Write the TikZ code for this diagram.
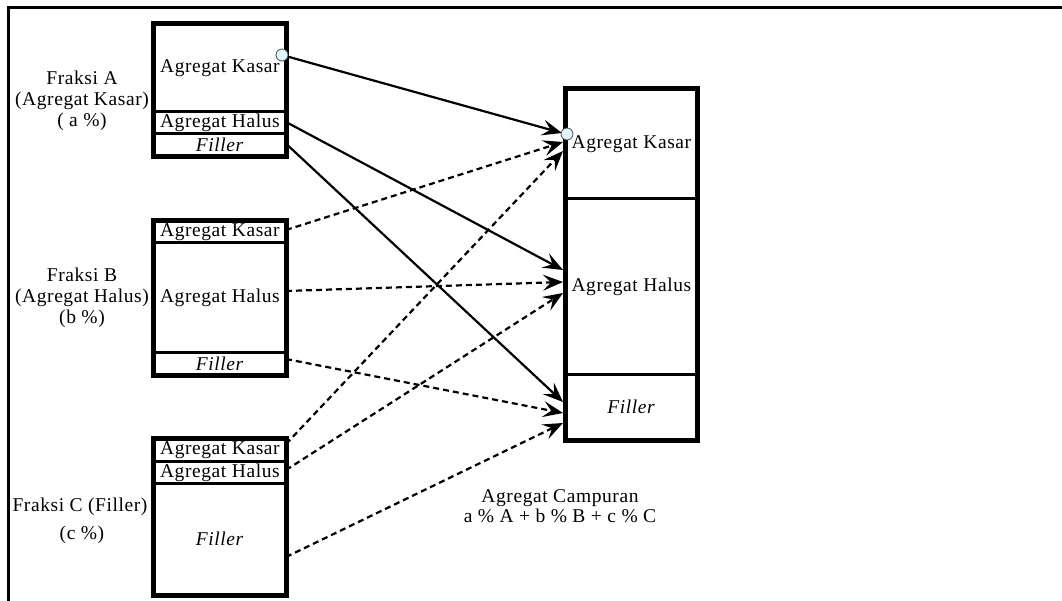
\documentclass[tikz,border=0pt]{standalone}
\usepackage{fontspec}
\setmainfont[LetterSpace=3]{Liberation Serif}
\usetikzlibrary{arrows.meta}
\begin{document}
\begin{tikzpicture}[x=1pt,y=-1pt,
  txt/.style={font=\fontsize{19.5}{22}\selectfont},
  cell/.style={draw, line width=2.8pt, inner sep=0pt, anchor=north west, minimum width=131pt, txt},
  outer/.style={line width=4pt},
  conn/.style={line width=2.2pt, -{Stealth[length=20pt, width=16pt, inset=8pt]}},
  dconn/.style={conn, dash pattern=on 6pt off 4pt},
  dot/.style={circle, draw=black!70, fill=cyan!12, line width=0.8pt, minimum size=12pt, inner sep=0pt},
  lab/.style={txt, align=center}]
\useasboundingbox (0,0) rectangle (1062,601);
\draw[line width=3pt] (8.5,601) -- (8.5,7.5) -- (1062,7.5);

% Box A
\node[cell, minimum height=87pt] (Ak) at (153,23) {Agregat Kasar};
\node[cell, minimum height=22pt] (Ah) at (153,110) {Agregat Halus};
\node[cell, minimum height=22pt] (Af) at (153,132) {\textit{Filler}};
\draw[outer] (Ak.north west) rectangle (Af.south east);
% Box B
\node[cell, minimum height=21pt] (Bk) at (153,220) {Agregat Kasar};
\node[cell, minimum height=110pt] (Bh) at (153,241) {Agregat Halus};
\node[cell, minimum height=22pt] (Bf) at (153,351) {\textit{Filler}};
\draw[outer] (Bk.north west) rectangle (Bf.south east);
% Box C
\node[cell, minimum height=22pt] (Ck) at (153,438) {Agregat Kasar};
\node[cell, minimum height=22pt] (Ch) at (153,460) {Agregat Halus};
\node[cell, minimum height=111pt] (Cf) at (153,482) {\textit{Filler}};
\draw[outer] (Ck.north west) rectangle (Cf.south east);
% Right box
\node[cell, minimum width=130pt, minimum height=109pt] (Rk) at (565,88) {Agregat Kasar};
\node[cell, minimum width=130pt, minimum height=176pt] (Rh) at (565,197) {Agregat Halus};
\node[cell, minimum width=130pt, minimum height=65pt] (Rf) at (565,373) {\textit{Filler}};
\draw[outer] (Rk.north west) rectangle (Rf.south east);

% Left labels
\node[lab] (LA) at (82,101) {Fraksi A\\[-1pt](Agregat Kasar)\\[-1pt]( a \%)};
\node[lab] (LB) at (82,298) {Fraksi B\\[-1pt](Agregat Halus)\\[-1pt](b \%)};
\node[txt] (LC1) at (80,507) {Fraksi C (Filler)};
\node[txt] (LC2) at (82,535) {(c \%)};
\node[lab] (mix) at (560,506) {Agregat Campuran\\[-2pt]a \% A + b \% B + c \% C};

% start / end points
\coordinate (sBk) at (286,230);
\coordinate (sBh) at (286,291);
\coordinate (sBf) at (286,359);
\coordinate (sCk) at (286,444);
\coordinate (sCh) at (286,470);
\coordinate (sCf) at (286,557);
\coordinate (tK1) at (562,133);
\coordinate (tK2) at (563,142);
\coordinate (tK3) at (563,151);
\coordinate (tH1) at (563,270);
\coordinate (tH2) at (563,282);
\coordinate (tH3) at (563,293);
\coordinate (tF1) at (563,402);
\coordinate (tF2) at (563,413);
\coordinate (tF3) at (563,423);

\node[dot] (cA) at (282,55) {};
\draw[conn] (cA) -- (tK1);
\draw[conn] (Ah.east) -- (tH1);
\draw[conn] (Af.east) -- (tF1);
\draw[dconn] (sBk) -- (tK2);
\draw[dconn] (sBh) -- (tH2);
\draw[dconn] (sBf) -- (tF2);
\draw[dconn] (sCk) -- (tK3);
\draw[dconn] (sCh) -- (tH3);
\draw[dconn] (sCf) -- (tF3);
\node[dot] (cR) at (567,134) {};
\end{tikzpicture}
\end{document}
